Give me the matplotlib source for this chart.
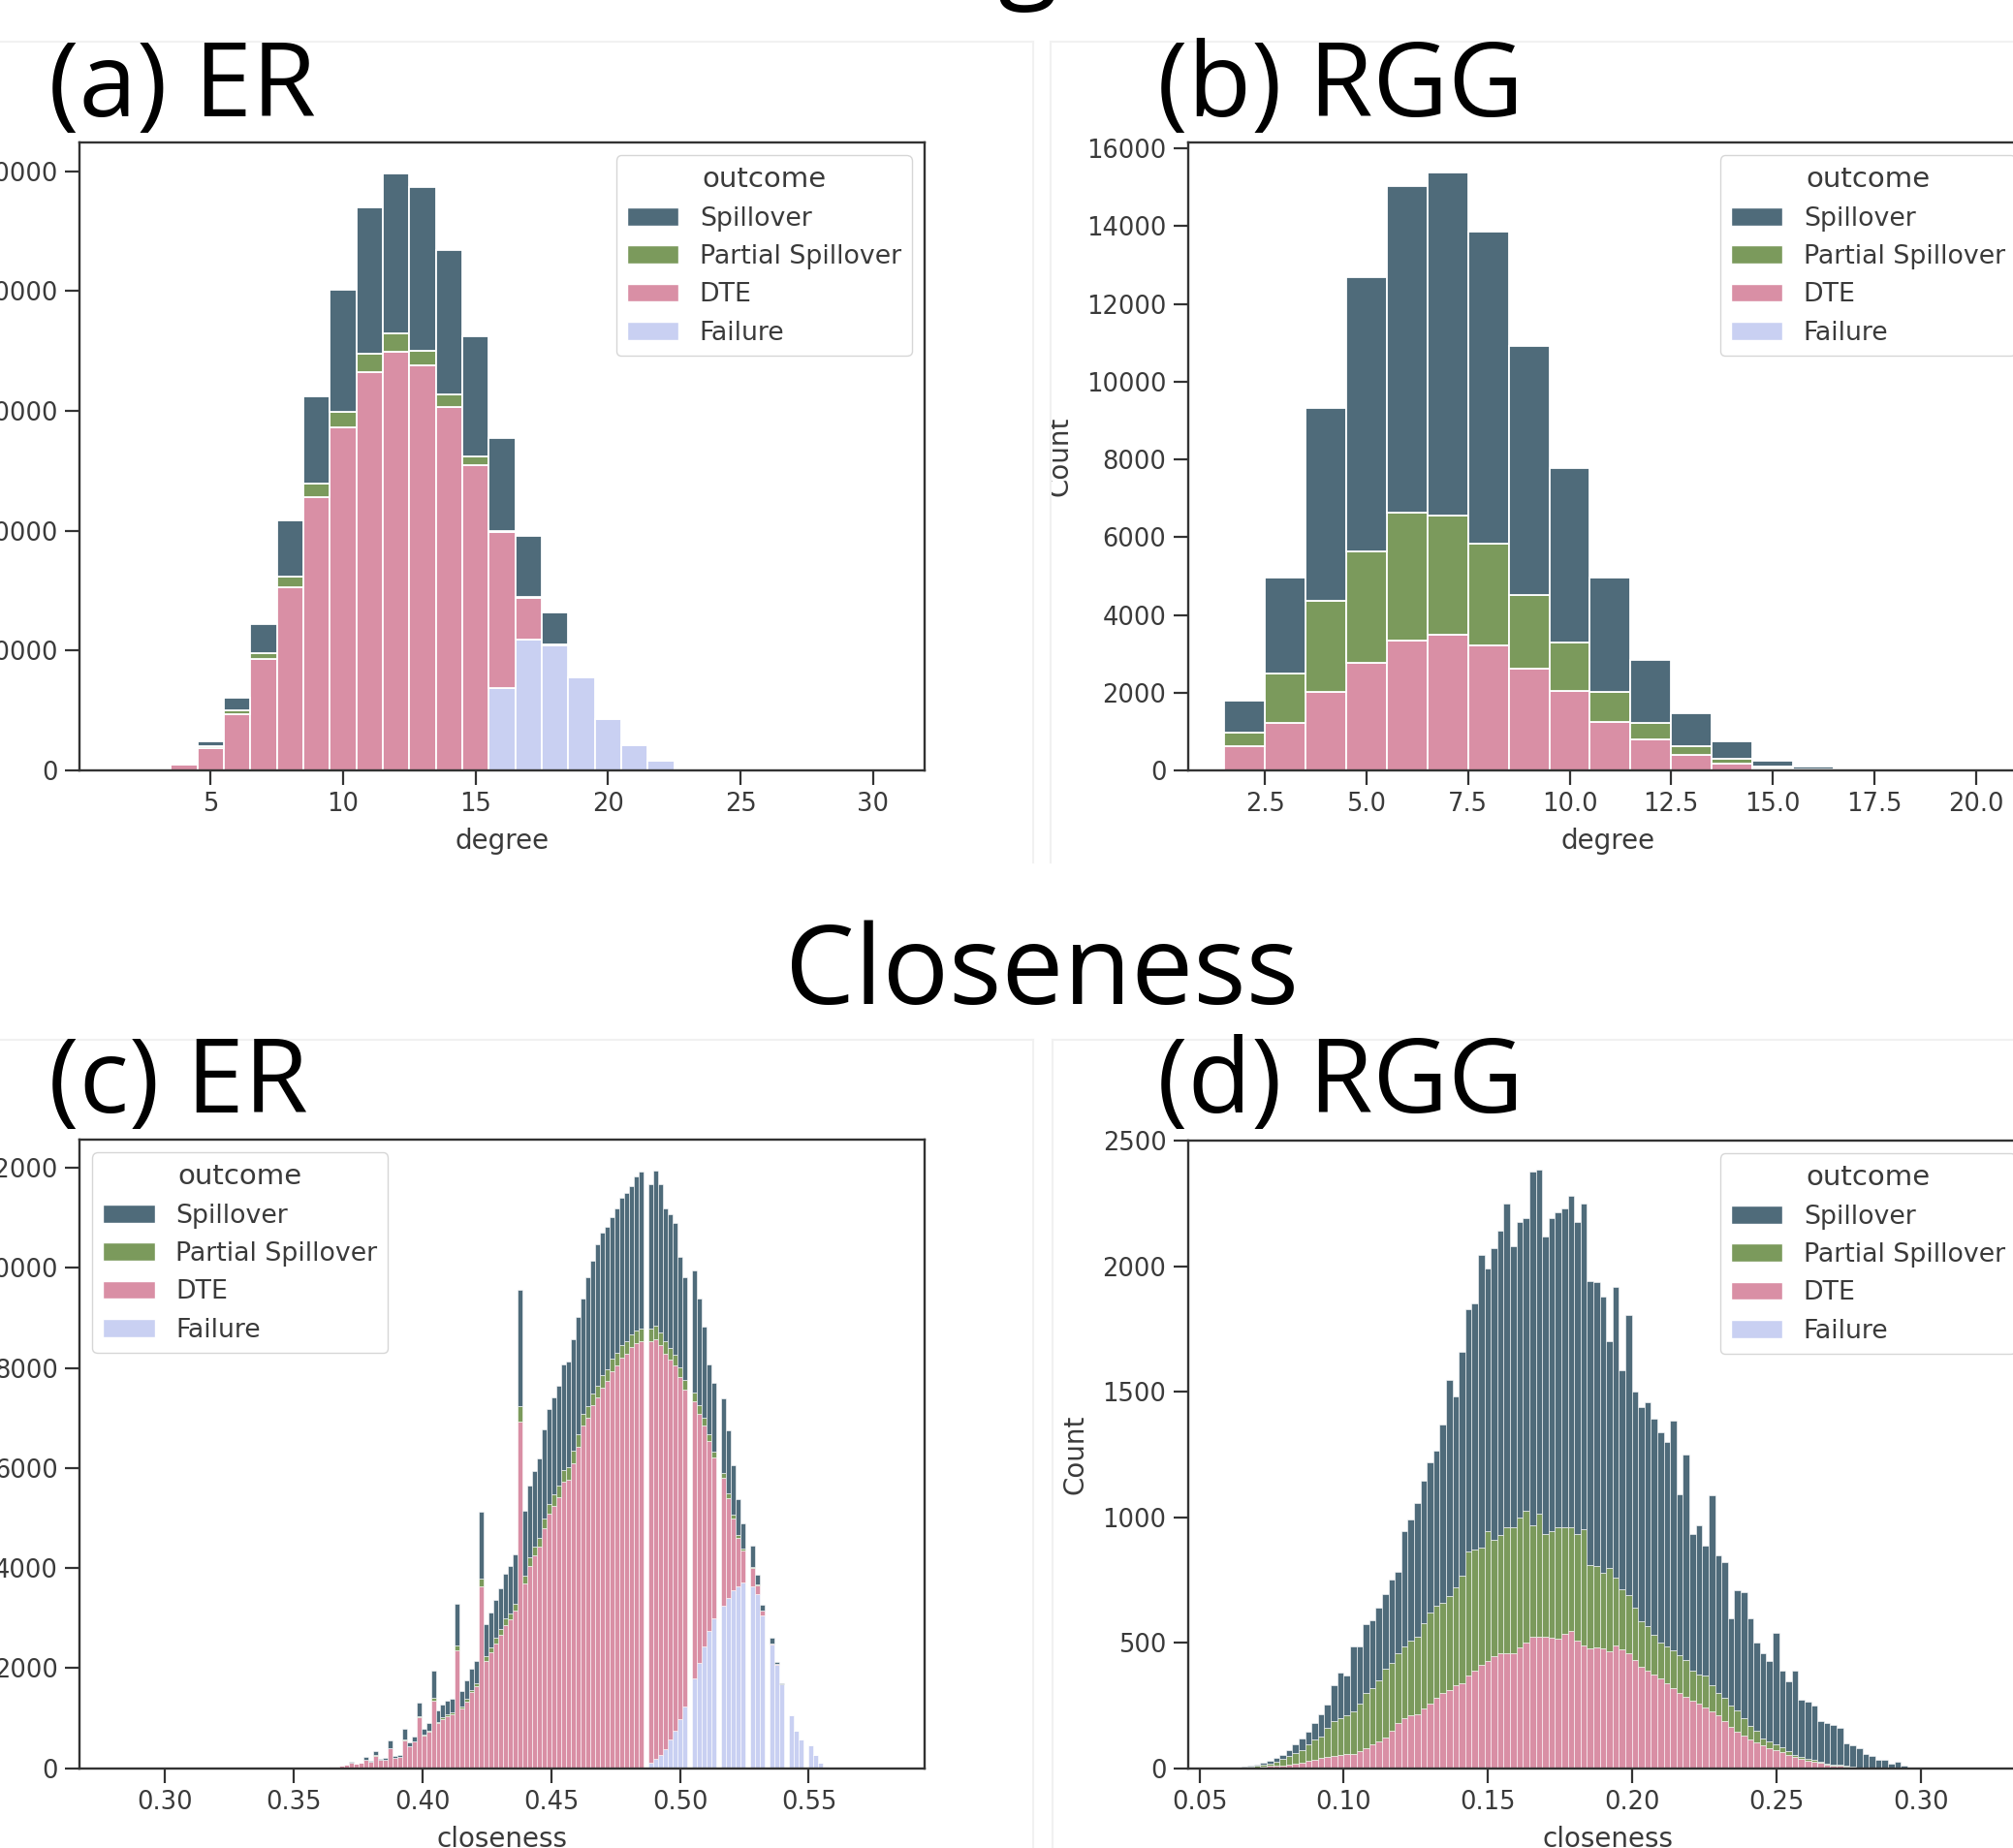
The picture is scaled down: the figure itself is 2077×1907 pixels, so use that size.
import numpy as np
import matplotlib
matplotlib.use('Agg')
import matplotlib.pyplot as plt
from matplotlib.patches import Patch
from matplotlib.lines import Line2D
from matplotlib.transforms import Bbox, TransformedBbox

outcomes = ['Spillover', 'Partial Spillover', 'DTE', 'Failure']
colors = {'Spillover': '#4f6b7a', 'Partial Spillover': '#7b9a5c',
          'DTE': '#d98fa5', 'Failure': '#c9d0f2'}

# (a) ER, degree (one bar per integer degree)
er_degree = list(range(4, 24))
er_deg_spill = [0, 400, 1100, 2450, 4700, 7300, 10200, 12200, 13300, 13650,
                12100, 10000, 7700, 5100, 2600, 0, 0, 0, 0, 0]
er_deg_partial = [0, 150, 300, 450, 900, 1100, 1300, 1600, 1600, 1250,
                  1050, 700, 100, 100, 50, 0, 0, 0, 0, 0]
er_deg_dte = [460, 1850, 4700, 9300, 15300, 22800, 28600, 33200, 34900, 33800,
              30300, 25500, 13000, 3500, 100, 0, 0, 0, 0, 0]
er_deg_fail = [0, 0, 0, 0, 0, 0, 0, 0, 0, 0,
               0, 0, 6900, 10900, 10400, 7750, 4320, 2090, 790, 100]

# (b) RGG, degree
rgg_degree = list(range(2, 22))
rgg_deg_spill = [830, 2490, 4940, 7050, 8410, 8810, 8020, 6410, 4470, 2960,
                 1620, 840, 455, 145, 70, 25, 8, 3, 1, 1]
rgg_deg_partial = [340, 1260, 2350, 2860, 3290, 3080, 2610, 1900, 1250, 760,
                   430, 230, 120, 60, 20, 5, 2, 1, 0, 0]
rgg_deg_dte = [620, 1220, 2020, 2770, 3340, 3480, 3220, 2610, 2050, 1250,
               790, 390, 170, 40, 10, 3, 1, 0, 0, 0]
rgg_deg_fail = [0] * 20

# (c) ER, closeness: bins of width 0.00188 starting at 0.36
er_clo_start, er_clo_width = 0.3600, 0.00188
er_clo_spill = [0, 0, 0, 5, 10, 10, 30, 10, 15, 60,
                20, 80, 25, 30, 150, 35, 40, 210, 70, 90,
                260, 115, 140, 550, 220, 250, 270, 280, 830, 310,
                360, 420, 450, 1330, 640, 700, 760, 820, 890, 940,
                1000, 2330, 1300, 1430, 1500, 1590, 1770, 1880, 1940, 2000,
                2110, 2120, 2230, 2350, 2300, 2580, 2660, 2810, 2850, 2850,
                2840, 2890, 2930, 2960, 2960, 3080, 3130, 0, 2870, 3110,
                2950, 2660, 2670, 2630, 2210, 2060, 0, 2430, 2120, 1820,
                1400, 1370, 0, 1490, 1270, 980, 710, 500, 0, 410,
                190, 100, 0, 100, 40, 20, 0, 0, 0, 0,
                0, 0, 0, 0, 0, 0]
er_clo_partial = [0, 0, 0, 0, 0, 0, 0, 0, 0, 0,
                  0, 10, 0, 0, 10, 0, 0, 20, 10, 10,
                  20, 15, 20, 50, 30, 30, 30, 30, 100, 40,
                  50, 50, 60, 150, 85, 95, 100, 110, 120, 120,
                  130, 300, 150, 170, 180, 190, 200, 210, 220, 230,
                  240, 240, 250, 250, 230, 230, 230, 240, 240, 240,
                  250, 250, 250, 250, 250, 250, 250, 0, 250, 260,
                  250, 240, 230, 220, 200, 190, 0, 180, 170, 150,
                  140, 120, 0, 100, 90, 70, 60, 40, 0, 30,
                  20, 10, 0, 0, 0, 0, 0, 0, 0, 0,
                  0, 0, 0, 0, 0, 0]
er_clo_dte = [10, 20, 30, 35, 50, 70, 110, 90, 105, 170,
              130, 250, 165, 180, 400, 205, 220, 560, 440, 530,
              1030, 660, 740, 1350, 900, 990, 1050, 1080, 2350, 1200,
              1340, 1520, 1640, 3640, 2150, 2320, 2500, 2670, 2870, 2980,
              3150, 6930, 3700, 4050, 4250, 4420, 4800, 5080, 5250, 5420,
              5720, 5770, 6100, 6420, 6850, 7010, 7250, 7410, 7610, 7730,
              7930, 8050, 8210, 8290, 8420, 8500, 8540, 0, 8435, 8395,
              8195, 7905, 7585, 7300, 6820, 6340, 0, 5540, 4980, 4420,
              3780, 3210, 0, 2570, 2000, 1440, 960, 640, 0, 360,
              170, 100, 0, 30, 20, 0, 0, 0, 0, 0,
              0, 0, 0, 0, 0, 0]
er_clo_fail = [0] * 68 + [105, 185, 265, 385, 585, 750, 990, 1230, 0, 1790,
                          2110, 2430, 2750, 3000, 0, 3240, 3400, 3560, 3640, 3720,
                          0, 3640, 3480, 3050, 0, 2470, 2060, 1680, 0, 1070,
                          750, 585, 0, 470, 265, 105, 40, 10]

# (d) RGG, closeness: bins of width 0.00222 starting at 0.06
rgg_clo_start, rgg_clo_width = 0.0600, 0.00222
rgg_clo_spill = [1, 2, 3, 3, 5, 7, 10, 12, 17, 24,
                 33, 46, 52, 65, 87, 95, 143, 180, 160, 260,
                 226, 275, 270, 290, 298, 330, 322, 458, 480, 531,
                 565, 596, 619, 710, 861, 760, 894, 966, 983, 1167,
                 1047, 1159, 1213, 1288, 1119, 1175, 1167, 1408, 1368, 1184,
                 1248, 1255, 1271, 1320, 1240, 1297, 1132, 1130, 1100, 900,
                 1158, 872, 1115, 859, 855, 894, 864, 840, 813, 916,
                 640, 819, 545, 593, 517, 758, 547, 543, 347, 480,
                 502, 427, 351, 340, 320, 446, 304, 278, 335, 229,
                 229, 217, 160, 159, 155, 150, 88, 83, 77, 54,
                 47, 32, 32, 17, 25, 10, 5]
rgg_clo_partial = [1, 1, 2, 3, 5, 8, 11, 18, 27, 36,
                   44, 50, 65, 81, 88, 115, 137, 145, 152, 167,
                   189, 218, 225, 244, 274, 270, 280, 285, 299, 310,
                   340, 362, 366, 360, 376, 390, 426, 493, 482, 467,
                   515, 466, 470, 500, 500, 520, 524, 443, 491, 410,
                   423, 443, 425, 411, 425, 461, 333, 322, 302, 332,
                   270, 240, 230, 210, 180, 177, 158, 142, 145, 152,
                   150, 147, 122, 118, 127, 103, 88, 90, 84, 83,
                   69, 55, 48, 29, 26, 21, 19, 15, 9, 8,
                   6, 7, 6, 5, 4, 4, 4, 3, 2, 2,
                   2, 1, 2, 1, 1, 0, 0]
rgg_clo_dte = [1, 2, 3, 4, 5, 7, 9, 10, 11, 14,
               18, 24, 30, 34, 40, 45, 50, 55, 58, 58,
               70, 82, 95, 106, 122, 150, 180, 200, 211, 215,
               240, 259, 280, 300, 310, 330, 340, 370, 388, 412,
               428, 445, 460, 460, 460, 480, 500, 525, 525, 525,
               520, 517, 535, 549, 510, 490, 477, 483, 478, 468,
               490, 475, 460, 430, 405, 388, 372, 358, 340, 318,
               300, 283, 268, 257, 243, 227, 212, 190, 166, 147,
               131, 115, 102, 91, 82, 74, 65, 55, 44, 38,
               32, 26, 21, 15, 12, 9, 6, 4, 3, 2,
               1, 1, 0, 0, 0, 0, 0]
rgg_clo_fail = [0] * 107

W, H = 2077, 1907
fig = plt.figure(figsize=(W / 100, H / 100), dpi=100)
plt.rcParams['font.family'] = 'DejaVu Sans'


def px_axes(x0, y_top, x1, y_bot):
    return fig.add_axes([x0 / W, 1 - y_bot / H, (x1 - x0) / W, (y_bot - y_top) / H])


def stacked(ax, left, width, spill, partial, dte, fail, lw):
    bottom = np.zeros(len(left))
    for vals, name in [(fail, 'Failure'), (dte, 'DTE'),
                       (partial, 'Partial Spillover'), (spill, 'Spillover')]:
        h = np.asarray(vals, dtype=float)
        ax.bar(left, h, width=width, bottom=bottom, align='edge',
               color=colors[name], edgecolor='white', linewidth=lw)
        bottom += h


def style(ax, xlabel):
    for s in ax.spines.values():
        s.set_color('#333333')
        s.set_linewidth(1.7)
    ax.tick_params(length=11, width=1.6, pad=5, labelsize=18.5,
                   color='#333333', labelcolor='#3a3a3a')
    ax.set_xlabel(xlabel, fontsize=20, color='#3a3a3a', labelpad=8)
    ax.set_ylabel('Count', fontsize=20, color='#3a3a3a', labelpad=10)


def legend(ax, loc):
    handles = [Patch(facecolor=colors[n], edgecolor='white', label=n) for n in outcomes]
    leg = ax.legend(handles=handles, title='outcome', loc=loc, fontsize=19.3,
                    title_fontsize=21, labelcolor='#3a3a3a')
    leg.get_title().set_color('#3a3a3a')


# faint borders of the pasted panel images
for xs, ys in [([0, 1066], [43, 43]), ([1066, 1066], [43, 890]),
               ([1084, 1084], [43, 890]), ([1084, W], [43, 43]),
               ([0, 1066], [1073, 1073]), ([1066, 1066], [1073, H]),
               ([1086, W], [1073, 1073]), ([1086, 1086], [1073, H])]:
    fig.add_artist(Line2D([x / W for x in xs], [1 - y / H for y in ys],
                          color='#f1f1f1', linewidth=1.5))

# (a)
ax = px_axes(82, 147, 954, 795)
x = np.array(er_degree)
stacked(ax, x - 0.5, 1.0, er_deg_spill, er_deg_partial, er_deg_dte, er_deg_fail, 1.3)
ax.set_xlim(0.05, 31.95)
ax.set_ylim(0, 52400)
ax.set_xticks([5, 10, 15, 20, 25, 30])
style(ax, 'degree')
legend(ax, 'upper right')

# (b)
ax = px_axes(1225.7, 147, 2093, 795)
x = np.array(rgg_degree)
stacked(ax, x - 0.5, 1.0, rgg_deg_spill, rgg_deg_partial, rgg_deg_dte, rgg_deg_fail, 1.3)
ax.set_xlim(0.6, 21.3)
ax.set_ylim(0, 16150)
ax.set_yticks(range(0, 16001, 2000))
ax.set_xticks([2.5, 5.0, 7.5, 10.0, 12.5, 15.0, 17.5, 20.0])
style(ax, 'degree')
legend(ax, 'upper right')
lab = ax.yaxis.label
lab.set_clip_on(True)
lab.set_clip_box(TransformedBbox(Bbox([[1084 / W, 0], [1, 1]]), fig.transFigure))

# (c)
ax = px_axes(82, 1176, 954, 1824.8)
left = er_clo_start + er_clo_width * np.arange(len(er_clo_dte))
stacked(ax, left, er_clo_width, er_clo_spill, er_clo_partial, er_clo_dte, er_clo_fail, 0.4)
ax.set_xlim(0.2668, 0.5950)
ax.set_ylim(0, 12560)
style(ax, 'closeness')
legend(ax, 'upper left')

# (d)
ax = px_axes(1225.7, 1177, 2093, 1824.8)
left = rgg_clo_start + rgg_clo_width * np.arange(len(rgg_clo_dte))
stacked(ax, left, rgg_clo_width, rgg_clo_spill, rgg_clo_partial, rgg_clo_dte, rgg_clo_fail, 0.4)
ax.set_xlim(0.046, 0.3374)
ax.set_ylim(0, 2500)
ax.set_xticks([0.05, 0.10, 0.15, 0.20, 0.25, 0.30])
style(ax, 'closeness')
legend(ax, 'upper right')

# titles
title_font = ['Open Sans', 'DejaVu Sans']
fig.text(1075 / W, 1 + 14 / H, 'Degree', fontsize=82, family=title_font,
         ha='center', va='baseline')
fig.text(1075 / W, 1 - 1036 / H, 'Closeness', fontsize=82, family=title_font,
         ha='center', va='baseline')
for label, xp, yp in [('(a) ER', 50, 120), ('(b) RGG', 1194, 120),
                      ('(c) ER', 50, 1148), ('(d) RGG', 1194, 1148)]:
    fig.text(xp / W, 1 - yp / H, label, fontsize=77, family=title_font,
             ha='left', va='baseline')

fig.savefig('out.png', dpi=100)
